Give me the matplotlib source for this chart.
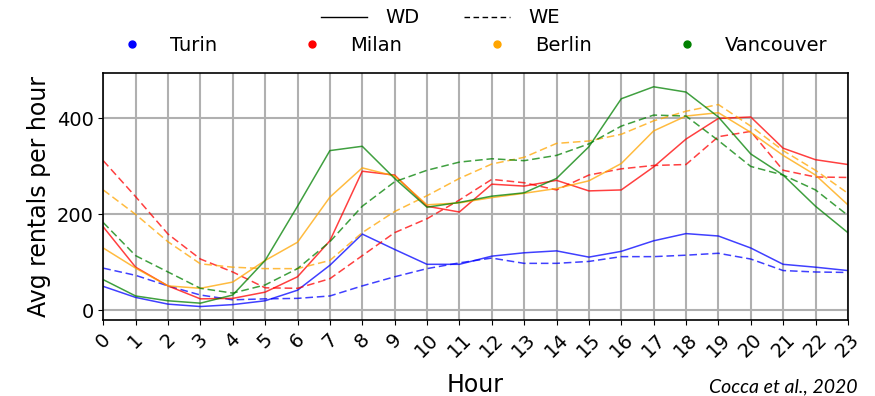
import matplotlib

matplotlib.use('Agg')

import matplotlib.pyplot as plt
from matplotlib.lines import Line2D

hours = list(range(24))
cities = ["Turin", "Milan", "Berlin", "Vancouver"]
city_colors = ["blue", "red", "orange", "green"]

# weekday (WD) and weekend (WE) average rentals per hour
turin_wd = [50, 27, 13, 8, 12, 20, 42, 94, 159, 127, 96, 96, 113, 120, 124, 111, 123, 145, 160, 155, 130, 96, 90, 83]
turin_we = [88, 73, 51, 32, 22, 24, 25, 30, 51, 70, 87, 99, 109, 98, 98, 102, 112, 112, 115, 119, 107, 83, 80, 79]
milan_wd = [174, 90, 51, 24, 25, 38, 70, 145, 290, 282, 217, 205, 263, 259, 271, 249, 251, 299, 357, 400, 403, 338, 314, 304]
milan_we = [312, 237, 159, 107, 80, 47, 46, 66, 114, 162, 191, 230, 273, 266, 251, 282, 295, 302, 304, 362, 373, 292, 278, 277]
berlin_wd = [130, 88, 51, 46, 59, 104, 142, 236, 297, 280, 220, 224, 235, 244, 254, 270, 306, 374, 405, 412, 371, 323, 282, 220]
berlin_we = [251, 200, 143, 97, 90, 87, 87, 104, 162, 206, 239, 275, 305, 319, 348, 353, 367, 395, 415, 429, 384, 333, 292, 244]
vanc_wd = [64, 30, 20, 15, 32, 104, 217, 333, 342, 275, 215, 225, 238, 245, 275, 341, 441, 466, 455, 403, 326, 282, 217, 162]
vanc_we = [183, 114, 80, 46, 36, 53, 87, 143, 217, 268, 292, 309, 316, 312, 323, 347, 384, 407, 405, 354, 300, 282, 251, 198]

wd_series = [turin_wd, milan_wd, berlin_wd, vanc_wd]
we_series = [turin_we, milan_we, berlin_we, vanc_we]

fig = plt.figure(figsize=(8.75, 3.96), dpi=100)
ax = fig.add_axes([0.118, 0.192, 0.851, 0.624])

for wd, we, color in zip(wd_series, we_series, city_colors):
    ax.plot(hours, wd, color=color, linestyle='-', linewidth=1.1, alpha=0.75)
    ax.plot(hours, we, color=color, linestyle='--', dashes=(5, 2.5),
            linewidth=1.1, alpha=0.75)

ax.set_xlim(0, 23)
ax.set_ylim(-20, 495)
ax.set_xticks(hours)
ax.set_xticklabels([str(h) for h in hours], rotation=45, fontsize=14)
ax.set_yticks([0, 200, 400])
ax.tick_params(axis='y', labelsize=14)
ax.grid(True, color='#b0b0b0', linewidth=1.5)
for spine in ax.spines.values():
    spine.set_linewidth(1.2)

ax.set_xlabel('Hour', fontsize=17, labelpad=9)
ax.set_ylabel('Avg rentals per hour', fontsize=17, labelpad=4)

# line style legend
style_handles = [Line2D([0], [0], color='black', linestyle='-', linewidth=1),
                 Line2D([0], [0], color='black', linestyle='--', dashes=(4, 2.5), linewidth=1)]
fig.legend(style_handles, ['WD', 'WE'], ncol=2, frameon=False,
           loc='center', bbox_to_anchor=(0.503, 0.955), fontsize=14,
           columnspacing=2.3, handlelength=2.4, handletextpad=0.9)

# city colour legend
city_handles = [Line2D([0], [0], color=c, marker='o', linestyle='', markersize=5)
                for c in city_colors]
fig.legend(city_handles, cities, ncol=4, frameon=False,
           loc='center', bbox_to_anchor=(0.543, 0.885), fontsize=14,
           columnspacing=4.4, handlelength=1.0, handletextpad=1.45)

fig.text(0.81, 0.002, 'Cocca et al., 2020', fontsize=14, style='italic',
         family='Lato', ha='left', va='bottom')

fig.savefig('out.png', dpi=100, facecolor='white')
